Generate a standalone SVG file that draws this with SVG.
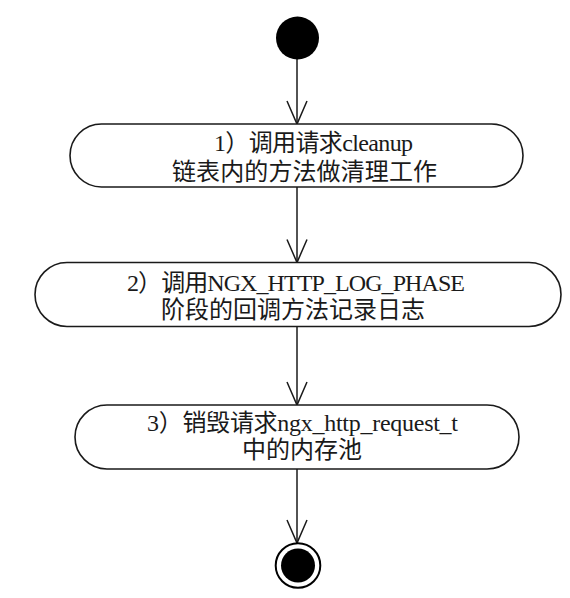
<svg xmlns="http://www.w3.org/2000/svg" width="570" height="598" viewBox="0 0 570 598">
  <style>
    .box { fill: #ffffff; stroke: #1a1a1a; stroke-width: 1.6; }
    .lbl { font-family: "Liberation Serif", "Noto Sans CJK SC", serif; font-size: 24px; fill: #1a1a1a; }
    .edge { fill: none; stroke: #1a1a1a; stroke-width: 1.5; }
  </style>
  <defs>
    <marker id="open" markerWidth="26" markerHeight="26" viewBox="-24 -12 26 24" refX="0" refY="0" orient="auto" markerUnits="userSpaceOnUse">
      <path d="M-23,-10 L0,0 L-23,10" fill="none" stroke="#1a1a1a" stroke-width="1.5"/>
    </marker>
  </defs>
  <rect width="570" height="598" fill="#ffffff"/>

  <g id="connectors">
    <line class="edge" x1="297" y1="59" x2="297" y2="124" marker-end="url(#open)"/>
    <line class="edge" x1="297" y1="187" x2="297" y2="262.5" marker-end="url(#open)"/>
    <line class="edge" x1="297" y1="326.5" x2="297" y2="405" marker-end="url(#open)"/>
    <line class="edge" x1="297" y1="469" x2="297" y2="543" marker-end="url(#open)"/>
  </g>

  <g id="start">
    <circle cx="297.5" cy="38" r="21.5" fill="#000000"/>
  </g>

  <g id="step1">
    <rect class="box" x="70" y="124" width="453" height="63" rx="31.5" ry="31.5"/>
    <text class="lbl" x="214" y="151" textLength="199" lengthAdjust="spacing">1）调用请求cleanup</text>
    <text class="lbl" x="172" y="179.5" textLength="265" lengthAdjust="spacing">链表内的方法做清理工作</text>
  </g>

  <g id="step2">
    <rect class="box" x="35" y="262.5" width="526" height="64" rx="32" ry="32"/>
    <text class="lbl" x="127" y="291" textLength="338" lengthAdjust="spacing">2）调用NGX_HTTP_LOG_PHASE</text>
    <text class="lbl" x="161" y="318" textLength="264" lengthAdjust="spacing">阶段的回调方法记录日志</text>
  </g>

  <g id="step3">
    <rect class="box" x="75" y="405" width="444" height="64" rx="32" ry="32"/>
    <text class="lbl" x="147" y="431" textLength="311" lengthAdjust="spacing">3）销毁请求ngx_http_request_t</text>
    <text class="lbl" x="242" y="458" textLength="120" lengthAdjust="spacing">中的内存池</text>
  </g>

  <g id="end">
    <circle cx="298" cy="565.5" r="22.3" fill="#ffffff" stroke="#000000" stroke-width="2"/>
    <circle cx="298" cy="565.5" r="17" fill="#000000"/>
  </g>
</svg>
